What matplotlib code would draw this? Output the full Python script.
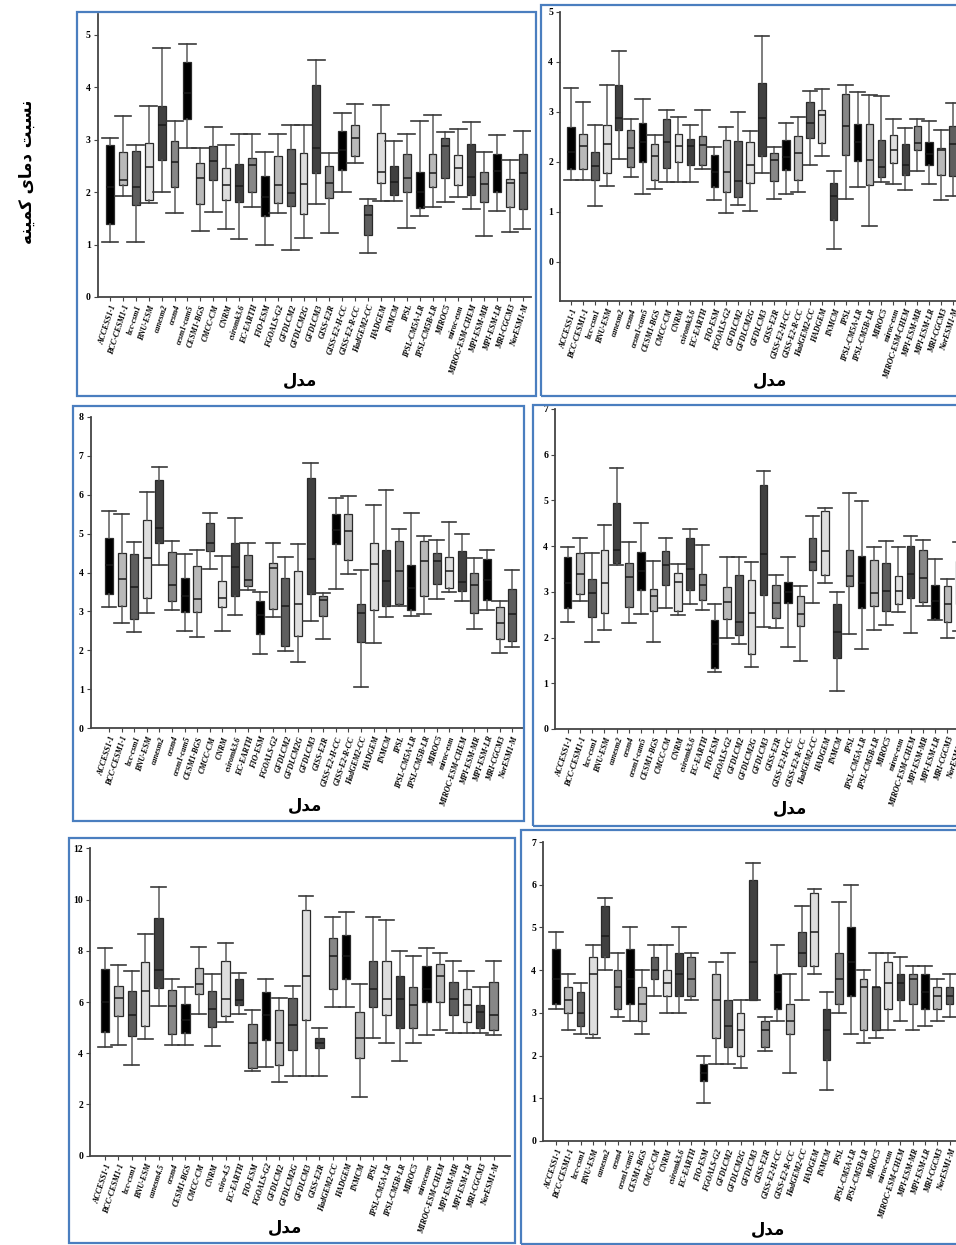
import matplotlib.pyplot as plt
from matplotlib.patches import Rectangle

W, H = 956, 1245

models = ['ACCESS1-1', 'BCC-CESM1-1', 'bcc-csm1', 'BNU-ESM', 'canesm2', 'cesm4',
          'cesm1-cam5', 'CESM1-BGS', 'CMCC-CM', 'CNRM', 'csiromk3.6', 'EC-EARTH',
          'FIO-ESM', 'FGOALS-G2', 'GFDLCM2', 'GFDLCM2G', 'GFDLCM3', 'GISS-E2R',
          'GISS-E2-H-CC', 'GISS-E2-R-CC', 'HadGEM2-CC', 'HADGEM', 'INMCM', 'IPSL',
          'IPSL-CM5A-LR', 'IPSL-CM5B-LR', 'MIROC5', 'miroc-esm', 'MIROC-ESM-CHEM',
          'MPI-ESM-MR', 'MPI-ESM-LR', 'MRI-CGCM3', 'NorESM1-M']
models5 = ['ACCESS1-1', 'BCC-CESM1-1', 'bcc-csm1', 'BNU-ESM', 'canesm4.5', 'cesm4',
           'CESM1-BGS', 'CMCC-CM', 'CNRM', 'csiro-4.5', 'EC-EARTH', 'FIO-ESM',
           'FGOALS-G2', 'GFDLCM2', 'GFDLCM2G', 'GFDLCM3', 'GISS-E2R', 'HadGEM2-CC',
           'HADGEM', 'INMCM', 'IPSL', 'IPSL-CM5A-LR', 'IPSL-CM5B-LR', 'MIROC5',
           'mirocesm', 'MIROC-ESM-CHEM', 'MPI-ESM-MR', 'MPI-ESM-LR', 'MRI-CGCM3', 'NorESM1-M']

# panel 1 (top left)
p1_lo = [1.04, 1.92, 1.04, 1.80, 2.01, 1.61, 2.85, 1.26, 1.63, 1.29, 1.11, 1.72, 0.99, 1.61, 0.89, 1.13, 1.78,
         1.22, 2.00, 2.55, 0.84, 1.83, 1.83, 1.32, 1.54, 1.71, 1.82, 1.90, 1.67, 1.16, 1.64, 1.24, 1.29]
p1_q1 = [1.39, 2.13, 1.76, 1.86, 2.62, 2.10, 3.39, 1.78, 2.24, 1.86, 1.81, 2.01, 1.54, 1.80, 1.74, 1.58, 2.36,
         1.88, 2.43, 2.69, 1.18, 2.18, 1.94, 2.01, 1.69, 2.10, 2.27, 2.13, 1.95, 1.82, 2.01, 1.72, 1.68]
p1_med = [2.10, 2.24, 2.10, 2.48, 3.29, 2.57, 3.90, 2.28, 2.59, 2.13, 2.11, 2.52, 1.90, 2.13, 1.99, 2.15, 2.85,
          2.18, 2.80, 3.03, 1.57, 2.39, 2.20, 2.27, 2.00, 2.36, 2.88, 2.46, 2.29, 2.15, 2.40, 2.18, 2.36]
p1_q3 = [2.90, 2.76, 2.78, 2.93, 3.65, 2.97, 4.49, 2.55, 2.88, 2.46, 2.54, 2.65, 2.31, 2.70, 2.83, 2.74, 4.04,
         2.50, 3.17, 3.28, 1.75, 3.12, 2.50, 2.73, 2.39, 2.73, 3.04, 2.71, 2.91, 2.38, 2.73, 2.25, 2.72]
p1_hi = [3.04, 3.45, 2.90, 3.65, 4.76, 3.35, 4.82, 2.85, 3.25, 2.90, 3.11, 3.11, 2.77, 3.11, 3.28, 3.28, 4.53,
         2.75, 3.52, 3.69, 1.87, 3.67, 2.98, 3.11, 3.36, 3.48, 3.15, 3.21, 3.34, 2.77, 3.10, 2.62, 3.17]

# panel 2 (top right)
p2_lo = [1.64, 1.63, 1.12, 1.52, 2.05, 1.69, 1.35, 1.45, 1.59, 1.59, 1.59, 1.85, 1.24, 0.97, 1.14, 1.02, 1.77,
         1.26, 1.36, 1.39, 1.93, 2.11, 0.25, 1.26, 1.49, 0.71, 1.59, 1.55, 1.43, 1.82, 1.56, 1.23, 1.32]
p2_q1 = [1.86, 1.85, 1.64, 1.77, 2.64, 1.89, 2.00, 1.63, 1.87, 1.99, 1.94, 1.94, 1.49, 1.39, 1.29, 1.57, 2.12,
         1.62, 1.83, 1.64, 2.47, 2.37, 0.83, 2.13, 2.01, 1.53, 1.69, 1.97, 1.73, 2.23, 1.93, 1.73, 1.71]
p2_med = [2.20, 2.31, 1.92, 2.35, 2.87, 2.27, 2.40, 2.11, 2.40, 2.31, 2.31, 2.33, 1.80, 1.79, 1.62, 1.93, 2.87,
          2.03, 2.10, 2.17, 2.77, 2.94, 1.32, 2.72, 2.40, 2.03, 1.89, 2.23, 1.94, 2.37, 2.15, 2.23, 2.36]
p2_q3 = [2.69, 2.56, 2.19, 2.73, 3.53, 2.64, 2.77, 2.36, 2.86, 2.55, 2.46, 2.52, 2.14, 2.43, 2.41, 2.39, 3.57,
         2.17, 2.44, 2.52, 3.19, 3.04, 1.57, 3.36, 2.75, 2.75, 2.43, 2.53, 2.35, 2.71, 2.39, 2.27, 2.72]
p2_hi = [3.47, 3.19, 2.73, 3.53, 4.22, 2.85, 3.25, 2.53, 3.04, 2.89, 2.73, 3.03, 2.29, 2.69, 3.00, 2.61, 4.51,
         2.29, 2.77, 2.89, 3.42, 3.45, 1.81, 3.54, 3.40, 3.33, 3.31, 2.86, 2.67, 2.86, 2.81, 2.63, 3.17]

# panel 3 (middle left)
p3_lo = [3.11, 2.70, 2.48, 2.97, 4.18, 3.05, 2.50, 2.34, 4.08, 2.50, 2.91, 3.55, 1.92, 2.87, 1.99, 1.69, 2.75,
         2.28, 3.58, 3.97, 1.06, 2.20, 2.87, 3.13, 2.89, 2.93, 3.31, 3.51, 3.27, 2.56, 3.05, 1.93, 2.10]
p3_q1 = [3.46, 3.13, 2.81, 3.34, 4.75, 3.28, 2.99, 2.99, 4.54, 3.11, 3.40, 3.65, 2.41, 3.06, 2.12, 2.37, 3.45,
         2.89, 4.73, 4.31, 2.22, 3.05, 3.15, 3.20, 3.05, 3.39, 3.70, 3.59, 3.52, 2.97, 3.29, 2.28, 2.25]
p3_med = [4.20, 3.83, 3.63, 4.38, 5.15, 3.67, 3.40, 3.31, 4.76, 3.35, 4.14, 3.82, 2.90, 4.11, 3.14, 3.20, 4.34,
          3.29, 5.10, 5.06, 2.95, 4.22, 3.77, 4.04, 3.60, 4.29, 4.29, 4.05, 3.76, 3.67, 3.80, 2.70, 2.93]
p3_q3 = [4.89, 4.50, 4.47, 5.35, 6.38, 4.53, 3.86, 4.17, 5.27, 3.78, 4.76, 4.44, 3.28, 4.24, 3.86, 4.05, 6.42,
         3.40, 5.51, 5.51, 3.19, 4.75, 4.59, 4.82, 4.20, 4.80, 4.51, 4.41, 4.54, 3.99, 4.34, 3.11, 3.57]
p3_hi = [5.58, 5.51, 4.78, 6.06, 6.72, 4.81, 4.48, 4.57, 5.54, 4.42, 5.39, 4.76, 3.49, 4.76, 4.39, 4.72, 6.82,
         3.48, 5.92, 5.97, 4.07, 5.74, 6.13, 5.11, 5.52, 4.94, 4.84, 5.29, 5.00, 4.38, 4.59, 3.27, 4.07]

# panel 4 (middle right)
p4_lo = [2.35, 2.80, 1.90, 2.16, 3.59, 2.32, 2.52, 1.90, 2.65, 2.49, 2.74, 2.61, 1.25, 1.98, 1.85, 1.36, 2.23,
         2.21, 1.80, 1.49, 2.76, 3.20, 0.83, 2.07, 1.74, 2.16, 2.28, 2.57, 2.10, 2.69, 2.38, 1.98, 2.14]
p4_q1 = [2.64, 2.96, 2.46, 2.54, 3.63, 2.67, 3.03, 2.58, 3.15, 2.58, 3.05, 2.83, 1.34, 2.40, 2.05, 1.65, 2.93,
         2.43, 2.75, 2.26, 3.48, 3.36, 1.55, 3.13, 2.64, 2.69, 2.58, 2.74, 2.86, 2.78, 2.40, 2.34, 2.73]
p4_med = [3.20, 3.39, 2.97, 3.19, 3.92, 3.33, 3.45, 2.91, 3.58, 3.22, 3.50, 3.14, 1.85, 2.78, 2.33, 2.54, 3.82,
          2.75, 3.00, 2.51, 3.65, 3.89, 2.12, 3.34, 3.20, 2.97, 3.01, 3.02, 3.38, 3.31, 2.80, 2.74, 3.23]
p4_q3 = [3.76, 3.85, 3.29, 3.92, 4.94, 3.63, 3.87, 3.07, 3.90, 3.42, 4.18, 3.40, 2.38, 3.10, 3.37, 3.25, 5.34,
         3.14, 3.21, 2.90, 4.18, 4.76, 2.73, 3.92, 3.79, 3.70, 3.64, 3.34, 4.00, 3.92, 3.15, 3.13, 3.67]
p4_hi = [3.98, 4.17, 3.84, 4.47, 5.70, 4.09, 4.50, 3.67, 4.18, 3.60, 4.38, 4.03, 2.73, 3.76, 3.76, 3.65, 5.65,
         3.37, 3.77, 3.13, 4.65, 4.84, 2.99, 5.17, 4.98, 3.99, 4.11, 3.98, 4.22, 4.14, 3.71, 3.29, 4.09]

# panel 5 (bottom left)
p5_lo = [4.25, 4.31, 3.53, 4.55, 5.83, 4.31, 4.31, 5.53, 4.27, 5.22, 5.52, 3.31, 3.47, 2.88, 3.10,
         3.10, 3.10, 5.80, 5.80, 2.30, 4.60, 4.40, 3.70, 4.40, 4.70, 4.90, 4.80, 4.80, 4.80, 4.70]
p5_q1 = [4.82, 5.45, 4.68, 5.05, 6.53, 4.77, 4.79, 6.31, 5.03, 5.45, 5.87, 3.42, 4.51, 3.55, 4.12,
         5.30, 4.20, 6.50, 6.90, 3.80, 5.80, 5.50, 5.00, 5.00, 6.00, 6.00, 5.50, 5.20, 5.00, 4.90]
p5_med = [6.00, 6.16, 5.51, 6.44, 7.25, 5.84, 5.30, 6.69, 5.74, 6.10, 6.09, 4.40, 5.50, 4.40, 5.09,
          7.00, 4.40, 7.80, 7.80, 4.60, 6.50, 6.10, 6.10, 5.90, 6.50, 7.00, 6.10, 5.90, 5.60, 5.50]
p5_q3 = [7.30, 6.62, 6.42, 7.57, 9.29, 6.48, 5.94, 7.32, 6.42, 7.62, 6.90, 5.13, 6.39, 5.70, 6.17,
         9.60, 4.60, 8.50, 8.60, 5.60, 7.60, 7.60, 7.00, 6.60, 7.40, 7.50, 6.80, 6.50, 5.90, 6.80]
p5_hi = [8.10, 7.44, 7.21, 8.64, 10.47, 6.88, 6.58, 8.16, 7.10, 8.31, 7.13, 5.68, 6.88, 6.17, 6.64,
         10.15, 5.00, 9.30, 9.50, 6.70, 9.30, 9.20, 8.00, 7.80, 8.10, 7.90, 7.60, 7.20, 6.60, 7.60]

# panel 6 (bottom right)
p6_lo = [3.1, 2.6, 2.5, 2.4, 4.0, 2.9, 2.8, 2.5, 3.4, 3.0, 3.0, 3.3, 0.9, 1.8, 1.8, 1.7, 3.3,
         2.1, 2.8, 1.6, 3.3, 3.9, 1.2, 3.0, 2.5, 2.3, 2.4, 2.6, 2.8, 2.6, 2.7, 2.8, 2.9]
p6_q1 = [3.2, 3.0, 2.7, 2.5, 4.3, 3.1, 3.2, 2.8, 3.8, 3.4, 3.4, 3.4, 1.4, 2.4, 2.2, 2.0, 3.3,
         2.2, 3.1, 2.5, 4.1, 4.1, 1.9, 3.2, 3.4, 2.6, 2.6, 3.1, 3.3, 3.2, 3.1, 3.1, 3.2]
p6_med = [3.8, 3.3, 3.0, 3.9, 4.8, 3.6, 3.8, 3.2, 4.0, 3.7, 3.9, 3.8, 1.6, 3.3, 2.7, 2.6, 4.2,
          2.6, 3.5, 2.8, 4.4, 4.9, 2.6, 3.8, 4.2, 3.6, 3.6, 3.7, 3.7, 3.8, 3.5, 3.4, 3.4]
p6_q3 = [4.5, 3.6, 3.5, 4.3, 5.5, 4.0, 4.5, 3.6, 4.3, 4.0, 4.4, 4.3, 1.8, 3.9, 3.3, 3.0, 6.1,
         2.8, 3.9, 3.2, 4.9, 5.8, 3.1, 4.4, 5.0, 3.8, 3.6, 4.2, 3.9, 3.9, 3.9, 3.6, 3.6]
p6_hi = [4.9, 3.9, 3.7, 4.6, 5.7, 4.4, 5.0, 4.0, 4.6, 4.6, 5.0, 4.4, 2.0, 4.2, 4.4, 3.3, 6.5,
         2.9, 4.6, 3.9, 5.5, 5.9, 3.5, 5.6, 6.0, 4.0, 4.4, 4.4, 4.3, 4.1, 4.1, 3.8, 3.9]

box_colors = ['#000000', '#b9b9b9', '#5e5e5e', '#dedede', '#404040', '#878787']

# Persian labels written in presentation forms (visual order) so they join properly
xlabel_fa = '\uFEDD\uFEAA\uFEE3'                       # مدل
ylabel_fa = ('\uFEEA\uFEE8\uFBFF\uFEE4\uFB90 '          # کمینه
             '\uFBFC\uFE8E\uFEE3\uFEA9 '                # دمای
             '\uFE96\uFE92\uFEB4\uFEE7')                # نسبت

fig = plt.figure(figsize=(W / 100, H / 100), dpi=100)


def frame(x0, y0, x1, y1):
    fig.add_artist(Rectangle((x0 / W, 1 - y1 / H), (x1 - x0) / W, (y1 - y0) / H,
                             transform=fig.transFigure, fill=False, ec='#4a7ebf', lw=1.6))


def panel(lo, q1, med, q3, hi, names, left, top, right, bottom, first, sp,
          ylim, yticks, capw, xlab_pos):
    ax = fig.add_axes([left / W, 1 - bottom / H, (right - left) / W, (bottom - top) / H])
    stats = [dict(whislo=a, q1=b, med=c, q3=d, whishi=e, fliers=[])
             for a, b, c, d, e in zip(lo, q1, med, q3, hi)]
    pos = list(range(1, len(stats) + 1))
    bp = ax.bxp(stats, positions=pos, widths=0.62, capwidths=capw, patch_artist=True,
                manage_ticks=False,
                boxprops=dict(edgecolor='#2a2a2a', linewidth=0.9),
                medianprops=dict(color='#1a1a1a', linewidth=1.1),
                whiskerprops=dict(color='#5a5a5a', linewidth=1.1),
                capprops=dict(color='#3a3a3a', linewidth=1.2))
    for i, b in enumerate(bp['boxes']):
        b.set_facecolor(box_colors[i % 6])
    ax.set_xlim(1 - (first - left) / sp, 1 + (right - first) / sp)
    ax.set_ylim(*ylim)
    ax.set_yticks(yticks)
    ax.set_xticks(pos)
    ax.set_xticklabels(names, rotation=72, ha='right', va='top', rotation_mode='anchor',
                       fontsize=5.8, fontweight='bold', fontstyle='italic',
                       family='Liberation Serif')
    for t in ax.get_yticklabels():
        t.set_fontweight('bold')
        t.set_family('Liberation Serif')
        t.set_fontsize(7)
    for s in ['top', 'right']:
        ax.spines[s].set_visible(False)
    for s in ['left', 'bottom']:
        ax.spines[s].set_color('#444444')
        ax.spines[s].set_linewidth(1.3)
    ax.tick_params(axis='both', direction='out', length=3, width=0.8, color='#444444', pad=2)
    fig.text(xlab_pos[0] / W, 1 - xlab_pos[1] / H, xlabel_fa, ha='center', va='center',
             fontsize=12, fontweight='bold', family='DejaVu Sans')
    return ax


frame(77, 12, 536, 396)
frame(541, 5, 960, 396)
frame(73, 406, 524, 821)
frame(533, 405, 960, 826)
frame(69, 838, 515, 1243)
frame(521, 830, 960, 1244)

panel(p1_lo, p1_q1, p1_med, p1_q3, p1_hi, models, 97.7, 14, 531, 297, 110, 12.9,
      (0, 5.4), [0, 1, 2, 3, 4, 5], 1.3, (300, 381))
panel(p2_lo, p2_q1, p2_med, p2_q3, p2_hi, models, 560, 11.7, 965, 300.7, 571, 11.94,
      (-0.78, 5.0), [0, 1, 2, 3, 4, 5], 1.2, (770, 381))
panel(p3_lo, p3_q1, p3_med, p3_q3, p3_hi, models, 90.7, 416.7, 523, 728.3, 109, 12.6,
      (0, 8.0), list(range(0, 9)), 1.15, (305, 806))
panel(p4_lo, p4_q1, p4_med, p4_q3, p4_hi, models, 555, 409, 970, 729, 567.7, 12.25,
      (0, 7.0), list(range(0, 8)), 1.1, (790, 809))
panel(p5_lo, p5_q1, p5_med, p5_q3, p5_hi, models5, 90, 848.3, 510, 1155.7, 105, 13.4,
      (0, 12.0), [0, 2, 4, 6, 8, 10, 12], 1.1, (285, 1228))
panel(p6_lo, p6_q1, p6_med, p6_q3, p6_hi, models, 543, 842, 965, 1141, 556, 12.3,
      (0, 7.0), list(range(0, 8)), 1.1, (768, 1230))

fig.text(27 / W, 1 - 172 / H, ylabel_fa, rotation=90, ha='center', va='center',
         fontsize=12, fontweight='bold', family='DejaVu Sans')

fig.savefig('out.png', dpi=100)
